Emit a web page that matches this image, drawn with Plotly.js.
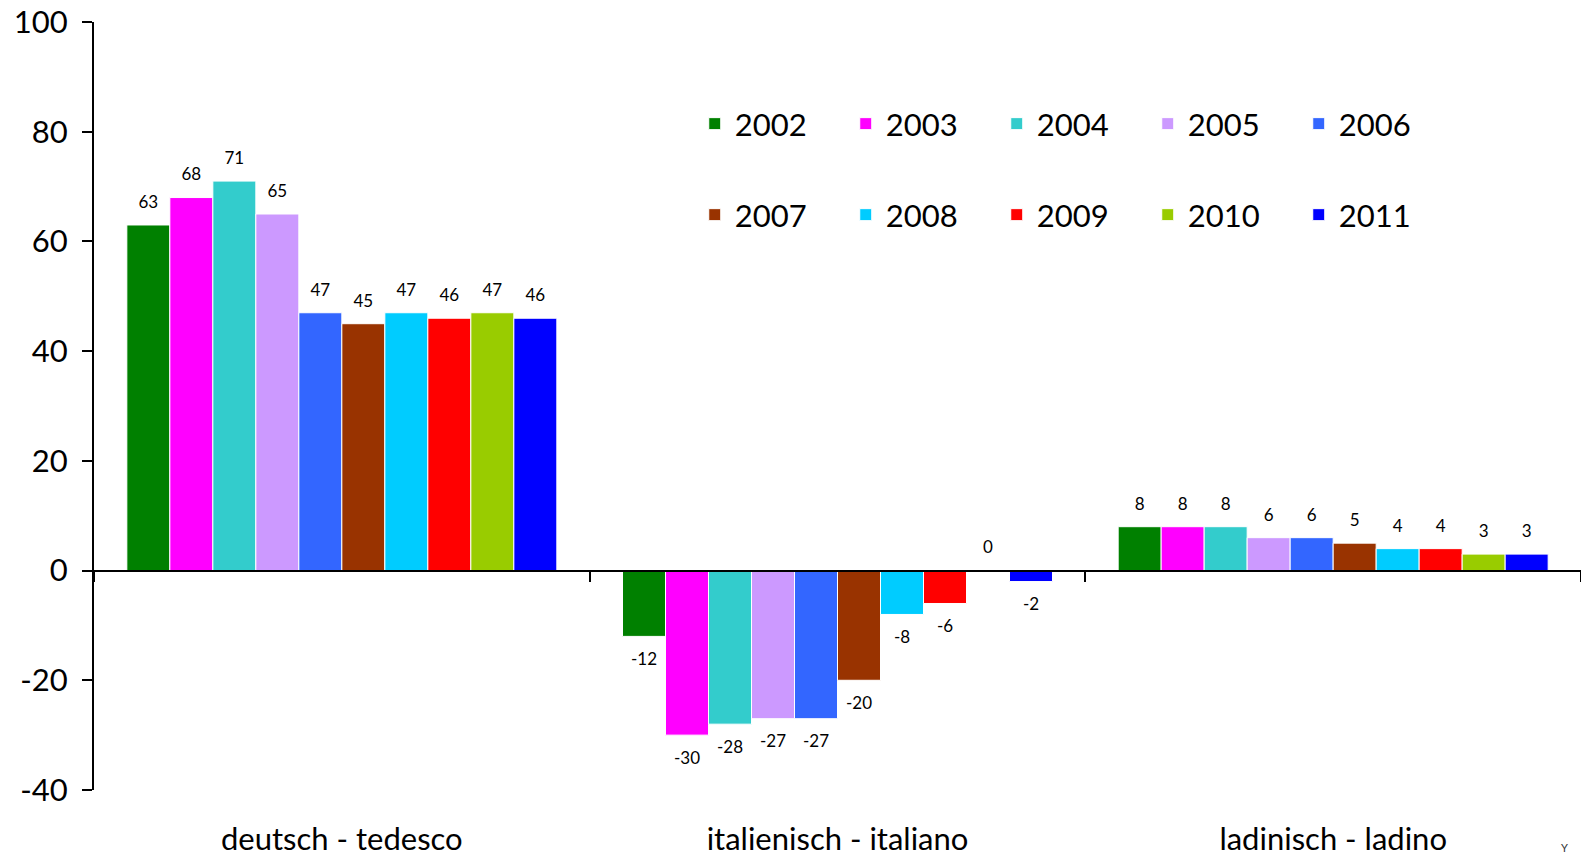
<!DOCTYPE html>
<html>
<head>
<meta charset="utf-8">
<script src="https://cdn.plot.ly/plotly-3.0.1.min.js"></script>
<style>
html,body{margin:0;padding:0;background:#fff;}
#chart{width:1581px;height:856px;}
</style>
</head>
<body>
<div id="chart"></div>
<script>
const categories = ['deutsch - tedesco', 'italienisch - italiano', 'ladinisch - ladino'];
const years = ['2002','2003','2004','2005','2006','2007','2008','2009','2010','2011'];
const colors = ['#008000','#FF00FF','#33CCCC','#CC99FF','#3366FF','#993300','#00CCFF','#FF0000','#99CC00','#0000FF'];

const v2002 = [63, -12, 8];
const v2003 = [68, -30, 8];
const v2004 = [71, -28, 8];
const v2005 = [65, -27, 6];
const v2006 = [47, -27, 6];
const v2007 = [45, -20, 5];
const v2008 = [47, -8, 4];
const v2009 = [46, -6, 4];
const v2010 = [47, 0, 3];
const v2011 = [46, -2, 3];

const yTicks = [-40, -20, 0, 20, 40, 60, 80, 100];

const series = [v2002, v2003, v2004, v2005, v2006, v2007, v2008, v2009, v2010, v2011];
const yMin = -40, yMax = 100;
const GAP = 0.1325;

const traces = [];
series.forEach((vals, i) => {
  traces.push({
    type: 'bar',
    x: categories,
    y: vals,
    name: years[i],
    legend: i < 5 ? 'legend' : 'legend2',
    marker: {color: colors[i], line: {color: '#ffffff', width: 1}},
    hoverinfo: 'skip'
  });
});
series.forEach((vals, i) => {
  traces.push({
    type: 'scatter',
    mode: 'markers+text',
    x: categories,
    y: vals,
    text: vals.map(String),
    textposition: vals.map(v => v < 0 ? 'bottom center' : 'top center'),
    textfont: {family: 'Lato, sans-serif', size: 17, color: '#000'},
    marker: {size: vals.map(v => v < 0 ? 24 : 19), color: 'rgba(0,0,0,0)', opacity: 0, line: {width: 0, color: 'rgba(0,0,0,0)'}},
    showlegend: false,
    cliponaxis: false,
    hoverinfo: 'skip'
  });
});

const legendFont = {family: 'Lato, sans-serif', size: 31, color: '#000'};

const layout = {
  width: 1581,
  height: 856,
  paper_bgcolor: '#fff',
  plot_bgcolor: '#fff',
  margin: {l: 94, r: 0, t: 22, b: 66, autoexpand: false},
  barmode: 'group',
  scattermode: 'group',
  bargap: GAP,
  bargroupgap: 0,
  scattergap: GAP,
  showlegend: true,
  xaxis: {
    type: 'category',
    anchor: 'free',
    position: (0 - yMin) / (yMax - yMin),
    range: [-0.5, 2.5],
    showline: true,
    linecolor: '#000',
    linewidth: 2,
    ticks: 'outside',
    tickson: 'boundaries',
    ticklen: 10,
    tickwidth: 2,
    tickcolor: '#000',
    tickfont: {family: 'Lato, sans-serif', size: 31, color: '#000'},
    ticklabelstandoff: 241,
    showgrid: false,
    zeroline: false,
    automargin: false,
    fixedrange: true
  },
  yaxis: {
    range: [yMin, yMax],
    tickvals: yTicks,
    ticktext: yTicks.map(String),
    showline: true,
    linecolor: '#000',
    linewidth: 2,
    ticks: 'outside',
    ticklen: 10,
    tickwidth: 2,
    tickcolor: '#000',
    tickfont: {family: 'Lato, sans-serif', size: 31, color: '#000'},
    ticklabelstandoff: 8,
    showgrid: false,
    zeroline: false,
    automargin: false,
    fixedrange: true
  },
  legend: {
    orientation: 'h',
    x: 0.404, xanchor: 'left',
    y: 0.8672, yanchor: 'middle',
    font: legendFont,
    entrywidth: 106, entrywidthmode: 'pixels',
    bgcolor: 'rgba(0,0,0,0)',
    traceorder: 'normal'
  },
  legend2: {
    orientation: 'h',
    x: 0.404, xanchor: 'left',
    y: 0.7487, yanchor: 'middle',
    font: legendFont,
    entrywidth: 106, entrywidthmode: 'pixels',
    bgcolor: 'rgba(0,0,0,0)',
    traceorder: 'normal'
  },
  annotations: [{
    text: 'Y',
    xref: 'paper', yref: 'paper',
    x: 0.9886, y: -0.0755,
    xanchor: 'center', yanchor: 'middle',
    showarrow: false,
    font: {family: 'Lato, sans-serif', size: 11, color: '#333'}
  }]
};

Plotly.newPlot('chart', traces, layout, {displayModeBar: false, staticPlot: true});
</script>
</body>
</html>
